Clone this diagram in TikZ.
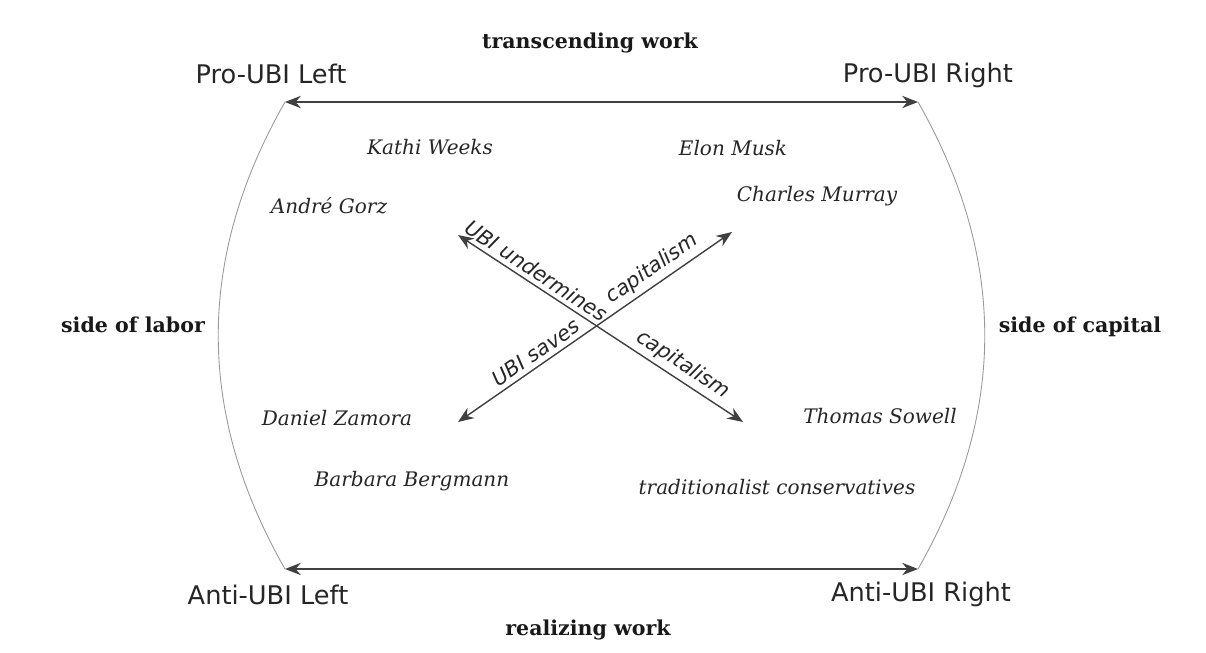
\documentclass[tikz,border=0pt]{standalone}
\usepackage{fontspec}
\setmainfont{DejaVu Serif}
\setsansfont{DejaVu Sans}
\usetikzlibrary{arrows.meta}

\tikzset{
  corner/.style={font=\sffamily\fontsize{14.6}{16}\selectfont, text=black!85},
  axis/.style={font=\bfseries\fontsize{11.7}{13}\selectfont, text=black!90},
  person/.style={font=\itshape\fontsize{11.4}{13}\selectfont, text=black!85},
  claim/.style={font=\sffamily\itshape\fontsize{11.8}{13}\selectfont, text=black!85, sloped, above, inner sep=2.5pt},
  arr/.style={{Stealth[length=9pt,width=7pt]}-{Stealth[length=9pt,width=7pt]}, draw=black!75, line width=0.8pt},
  rim/.style={draw=black!40, line width=0.5pt}
}

\begin{document}
\begin{tikzpicture}[x=0.02cm, y=-0.02cm]
    \useasboundingbox (0,0) rectangle (1206,652);

    % corners of the frame
    \coordinate (pl) at (285,102);
    \coordinate (pr) at (918,102);
    \coordinate (al) at (285,569);
    \coordinate (ar) at (918,569);

    \node [corner] (proleft)   at (271,74)  {Pro-UBI Left};
    \node [corner] (proright)  at (928,75)  {Pro-UBI Right};
    \node [corner] (antileft)  at (268,595) {Anti-UBI Left};
    \node [corner] (antiright) at (921,594) {Anti-UBI Right};

    \node [axis] (transc)  at (590,43)  {transcending work};
    \node [axis] (realiz)  at (588,630) {realizing work};
    \node [axis] (labor)   at (133,325) {side of labor};
    \node [axis] (capital) at (1080,327) {side of capital};

    \node [person] (weeks)    at (430,147) {Kathi Weeks};
    \node [person] (gorz)     at (329,206) {André Gorz};
    \node [person] (musk)     at (733,148) {Elon Musk};
    \node [person] (murray)   at (817,196) {Charles Murray};
    \node [person] (zamora)   at (337,418) {Daniel Zamora};
    \node [person] (bergmann) at (412,481) {Barbara Bergmann};
    \node [person] (sowell)   at (880,416) {Thomas Sowell};
    \node [person] (tradcons) at (777,487) {traditionalist conservatives};

    \draw [arr] (pl) -- (pr);
    \draw [arr] (al) -- (ar);
    \draw [rim] (pl) .. controls (196,258) and (196,413) .. (al);
    \draw [rim] (pr) .. controls (1007,258) and (1007,413) .. (ar);

    % the two claims
    \coordinate (sl) at (458,422);
    \coordinate (sr) at (732,232);
    \coordinate (ul) at (458,235);
    \coordinate (ur) at (743,422);
    \draw [arr] (sl) -- node [claim, pos=0.31] (saves) {UBI saves}
                        node [claim, pos=0.74] (capa) {capitalism} (sr);
    \draw [arr] (ul) -- node [claim, pos=0.25] (under) {UBI undermines}
                        node [claim, pos=0.76] (capb) {capitalism} (ur);
\end{tikzpicture}
\end{document}
